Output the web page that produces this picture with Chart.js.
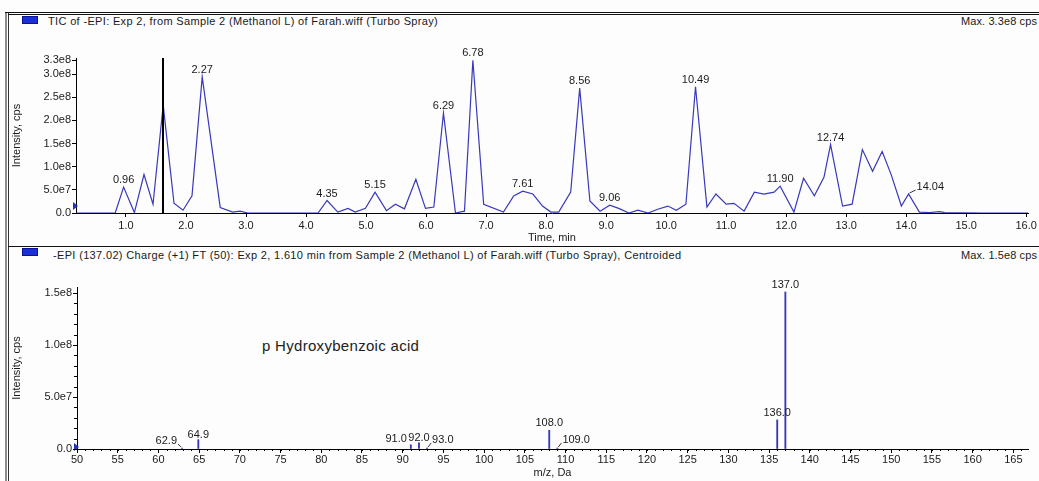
<!DOCTYPE html>
<html>
<head>
<meta charset="utf-8">
<script src="https://cdn.jsdelivr.net/npm/chart.js@4.4.0/dist/chart.umd.min.js"></script>
<style>
  body { margin: 0; width: 1039px; height: 481px; background: #fdfdfd; position: relative; overflow: hidden;
         font-family: "Liberation Sans", Arial, sans-serif; color: #1a1a1a; }
  .abs { position: absolute; }
  .hdr { position: absolute; font-size: 11px; line-height: 12px; white-space: nowrap; letter-spacing: 0.34px; }
  .key { position: absolute; width: 14px; height: 6px; background: #1c30d8; border: 1px solid #0b1490; }
  canvas { position: absolute; left: 0; }
</style>
</head>
<body>
<!-- frame lines -->
<div class="abs" style="left:5px;top:12px;width:2px;height:469px;background:#8c8c8c"></div>
<div class="abs" style="left:8px;top:12px;width:1px;height:469px;background:#333"></div>
<div class="abs" style="left:5px;top:12px;width:1034px;height:1px;background:#111"></div>
<div class="abs" style="left:8px;top:14px;width:1031px;height:1px;background:#111"></div>
<div class="abs" style="left:8px;top:246px;width:1031px;height:1px;background:#111"></div>

<!-- panel headers -->
<div class="key" style="left:22px;top:16px"></div>
<div class="hdr" style="left:48px;top:15px">TIC of -EPI: Exp 2, from Sample 2 (Methanol L) of Farah.wiff (Turbo Spray)</div>
<div class="hdr" style="right:2px;top:15px;letter-spacing:0.1px">Max. 3.3e8 cps</div>

<div class="key" style="left:22px;top:248px"></div>
<div class="hdr" style="left:53px;top:249px">-EPI (137.02) Charge (+1) FT (50): Exp 2, 1.610 min from Sample 2 (Methanol L) of Farah.wiff (Turbo Spray), Centroided</div>
<div class="hdr" style="right:2px;top:249px;letter-spacing:0.1px">Max. 1.5e8 cps</div>

<div class="abs" style="left:262px;top:338px;font-size:15px;line-height:16px;letter-spacing:0.3px;color:#222">p Hydroxybenzoic acid</div>

<canvas id="tic" width="1039" height="220" style="top:27px"></canvas>
<canvas id="ms" width="1039" height="219" style="top:262px"></canvas>

<script>
// ---- TIC chromatogram (time, min / intensity, cps)
const ticTime = [0.17, 0.55, 0.82, 0.96, 1.14, 1.30, 1.45, 1.62, 1.80, 1.95, 2.10, 2.27, 2.57, 2.78, 2.90, 3.03,
  3.62, 3.80, 4.20, 4.35, 4.53, 4.70, 4.82, 4.99, 5.15, 5.34, 5.49, 5.64, 5.83, 5.99, 6.13, 6.29, 6.49, 6.64,
  6.78, 6.96, 7.29, 7.46, 7.61, 7.78, 7.94, 8.08, 8.21, 8.41, 8.56, 8.73, 8.90, 9.06, 9.21, 9.38, 9.53, 9.70,
  9.86, 10.03, 10.17, 10.33, 10.49, 10.68, 10.83, 11.00, 11.13, 11.30, 11.47, 11.63, 11.80, 11.90, 12.13,
  12.29, 12.47, 12.63, 12.74, 12.94, 13.10, 13.27, 13.44, 13.60, 13.75, 13.92, 14.04, 14.22, 14.39, 14.56,
  14.64, 15.29, 16.03];
const ticIntensity = [0, 0, 0, 0.56e8, 0.01e8, 0.83e8, 0.19e8, 2.33e8, 0.21e8, 0.06e8, 0.37e8, 2.94e8, 0.12e8,
  0.02e8, 0.04e8, 0, 0, 0, 0, 0.27e8, 0.02e8, 0.10e8, 0.02e8, 0.10e8, 0.45e8, 0.05e8, 0.19e8, 0.09e8, 0.73e8,
  0.10e8, 0.13e8, 2.16e8, 0, 0.04e8, 3.30e8, 0.19e8, 0.02e8, 0.37e8, 0.47e8, 0.41e8, 0.15e8, 0.02e8, 0.02e8,
  0.45e8, 2.70e8, 0.26e8, 0.04e8, 0.17e8, 0.10e8, 0, 0.06e8, 0, 0.08e8, 0.15e8, 0.06e8, 0.19e8, 2.73e8,
  0.13e8, 0.41e8, 0.19e8, 0.21e8, 0.04e8, 0.45e8, 0.41e8, 0.45e8, 0.58e8, 0.02e8, 0.75e8, 0.37e8, 0.77e8,
  1.48e8, 0.15e8, 0.19e8, 1.37e8, 0.90e8, 1.33e8, 0.83e8, 0.15e8, 0.41e8, 0.02e8, 0.01e8, 0.03e8, 0.01e8,
  0, 0];
const ticPeaks = [0.96, 2.27, 4.35, 5.15, 6.29, 6.78, 7.61, 8.56, 9.06, 10.49, 11.90, 12.74, 14.04];
const ticXTicks = [1, 2, 3, 4, 5, 6, 7, 8, 9, 10, 11, 12, 13, 14, 15, 16];
const ticYTicks = [0, 0.5e8, 1.0e8, 1.5e8, 2.0e8, 2.5e8, 3.0e8, 3.3e8];
const cursorTime = 1.61;

// ---- EPI spectrum at 1.610 min (m/z, Da / intensity, cps)
const msMz = [62.9, 64.9, 91.0, 92.0, 93.0, 108.0, 109.0, 136.0, 137.0];
const msIntensity = [0.01e8, 0.09e8, 0.04e8, 0.06e8, 0.01e8, 0.18e8, 0.01e8, 0.28e8, 1.51e8];
const msXTicks = [50, 55, 60, 65, 70, 75, 80, 85, 90, 95, 100, 105, 110, 115, 120, 125, 130, 135, 140, 145,
  150, 155, 160, 165];
const msYTicks = [0, 0.5e8, 1.0e8, 1.5e8];

const FONT = { family: '"Liberation Sans", Arial, sans-serif', size: 11 };
const INK = '#1a1a1a';
const TRACE = '#3838bc';

function sci(v) {
  return v === 0 ? '0.0' : v.toExponential(1).replace('+', '');
}

// peak labels over the apex, some moved aside with a small leader line
const peakLabels = {
  id: 'peakLabels',
  afterDatasetsDraw(chart, args, opts) {
    const ctx = chart.ctx, xs = chart.scales.x, ys = chart.scales.y;
    ctx.save();
    ctx.font = '11px "Liberation Sans", Arial, sans-serif';
    ctx.fillStyle = INK;
    ctx.strokeStyle = '#333';
    ctx.lineWidth = 1;
    ctx.textBaseline = 'middle';
    opts.xs.forEach(function (xv) {
      const i = opts.dataX.indexOf(xv);
      const px = xs.getPixelForValue(xv), py = ys.getPixelForValue(opts.dataY[i]);
      const text = xv.toFixed(opts.digits);
      const off = opts.offsets[text] || {};
      const dx = off.dx || 0, dy = off.dy === undefined ? -7 : off.dy;
      ctx.textAlign = off.align || 'center';
      ctx.fillText(text, px + dx, py + dy);
      if (off.leader) {
        const s = Math.sign(dx);
        ctx.beginPath();
        ctx.moveTo(px + s, py - 1);
        ctx.lineTo(px + dx - s, py + dy + 3);
        ctx.stroke();
      }
    });
    ctx.restore();
  }
};

// small unlabeled ticks between the major ones
const minorTicks = {
  id: 'minorTicks',
  afterDraw(chart, args, opts) {
    if (!opts.xStep) return;
    const ctx = chart.ctx, xs = chart.scales.x, ys = chart.scales.y, a = chart.chartArea;
    ctx.save();
    ctx.strokeStyle = '#000';
    ctx.lineWidth = 1;
    ctx.beginPath();
    for (let v = xs.min; v <= xs.max; v += opts.xStep) {
      const px = Math.round(xs.getPixelForValue(v)) + 0.5;
      ctx.moveTo(px, a.bottom);
      ctx.lineTo(px, a.bottom + 2);
    }
    for (let v = ys.min; v <= ys.max; v += opts.yStep) {
      const py = Math.round(ys.getPixelForValue(v)) + 0.5;
      ctx.moveTo(a.left, py);
      ctx.lineTo(a.left - 3, py);
    }
    ctx.stroke();
    ctx.restore();
  }
};

// cursor line and the small blue marker on the y axis
const markers = {
  id: 'markers',
  afterDatasetsDraw(chart, args, opts) {
    const ctx = chart.ctx, xs = chart.scales.x, ys = chart.scales.y, a = chart.chartArea;
    ctx.save();
    if (opts.cursor !== undefined) {
      const px = Math.round(xs.getPixelForValue(opts.cursor));
      ctx.fillStyle = '#000';
      ctx.fillRect(px - 1, a.top, 2, ys.getPixelForValue(0) - a.top);
    }
    const py = ys.getPixelForValue(opts.flag);
    ctx.fillStyle = '#2030c0';
    ctx.beginPath();
    ctx.moveTo(a.left - 3, py - 4);
    ctx.lineTo(a.left + 2, py);
    ctx.lineTo(a.left - 3, py + 4);
    ctx.closePath();
    ctx.fill();
    ctx.restore();
  }
};

function axisX(min, max, ticks, fmt, title, height, titlePad, tickPad) {
  return {
    type: 'linear', min: min, max: max, offset: false,
    afterFit(s) { s.height = height; },
    afterBuildTicks(s) { s.ticks = ticks.map(v => ({ value: v })); },
    ticks: { callback: fmt, font: FONT, color: INK, padding: tickPad, maxRotation: 0, autoSkip: false },
    grid: { drawOnChartArea: false, offset: false, tickLength: 4, color: '#000' },
    border: { color: '#000', width: 1 },
    title: { display: true, text: title, font: FONT, color: INK, padding: { top: 0, bottom: titlePad } }
  };
}

function axisY(min, max, ticks, width) {
  return {
    min: min, max: max,
    afterFit(s) { s.width = width; },
    afterBuildTicks(s) { s.ticks = ticks.map(v => ({ value: v })); },
    ticks: { callback: sci, font: FONT, color: INK, padding: 1, autoSkip: false },
    grid: { drawOnChartArea: false, tickLength: 4, color: '#000' },
    border: { color: '#000', width: 1 },
    title: { display: true, text: 'Intensity, cps', font: FONT, color: INK, padding: { top: 10, bottom: 0 } }
  };
}

new Chart(document.getElementById('tic'), {
  type: 'line',
  data: {
    datasets: [{
      data: ticTime.map((t, i) => ({ x: t, y: ticIntensity[i] })),
      borderColor: TRACE,
      borderWidth: 1.2,
      pointRadius: 0,
      tension: 0,
      fill: false
    }]
  },
  options: {
    responsive: false,
    animation: false,
    layout: { padding: { top: 31, right: 11, left: 0, bottom: 0 } },
    plugins: {
      legend: { display: false },
      tooltip: { enabled: false },
      peakLabels: {
        xs: ticPeaks, dataX: ticTime, dataY: ticIntensity, digits: 2,
        offsets: { '14.04': { align: 'left', dx: 8, dy: -7, leader: true } }
      },
      minorTicks: {},
      markers: { cursor: cursorTime, flag: 0.15e8 }
    },
    scales: {
      x: axisX(0.167, 16.03, ticXTicks, v => v.toFixed(1), 'Time, min', 34, 2.4, 2),
      y: axisY(0, 3.35e8, ticYTicks, 76)
    }
  },
  plugins: [peakLabels, minorTicks, markers]
});

new Chart(document.getElementById('ms'), {
  type: 'bar',
  data: {
    datasets: [{
      data: msMz.map((m, i) => ({ x: m, y: msIntensity[i] })),
      backgroundColor: TRACE,
      barThickness: 1.2,
      borderWidth: 0
    }]
  },
  options: {
    responsive: false,
    animation: false,
    layout: { padding: { top: 25, right: 11, left: 0, bottom: 0 } },
    plugins: {
      legend: { display: false },
      tooltip: { enabled: false },
      peakLabels: {
        xs: msMz, dataX: msMz, dataY: msIntensity, digits: 1,
        offsets: {
          '62.9': { align: 'right', dx: -5, dy: -7, leader: true },
          '91.0': { align: 'right', dx: -4, dy: -6 },
          '92.0': { dy: -5 },
          '93.0': { align: 'left', dx: 5, dy: -8, leader: true },
          '109.0': { align: 'left', dx: 5, dy: -8, leader: true },
          '64.9': { dy: -5 }
        }
      },
      minorTicks: { xStep: 1, yStep: 0.1e8 },
      markers: { flag: 0.02e8 }
    },
    scales: {
      x: axisX(50, 166.8, msXTicks, v => String(v), 'm/z, Da', 32, 1.4, 0),
      y: axisY(0, 1.558e8, msYTicks, 77)
    }
  },
  plugins: [peakLabels, minorTicks, markers]
});
</script>
</body>
</html>
